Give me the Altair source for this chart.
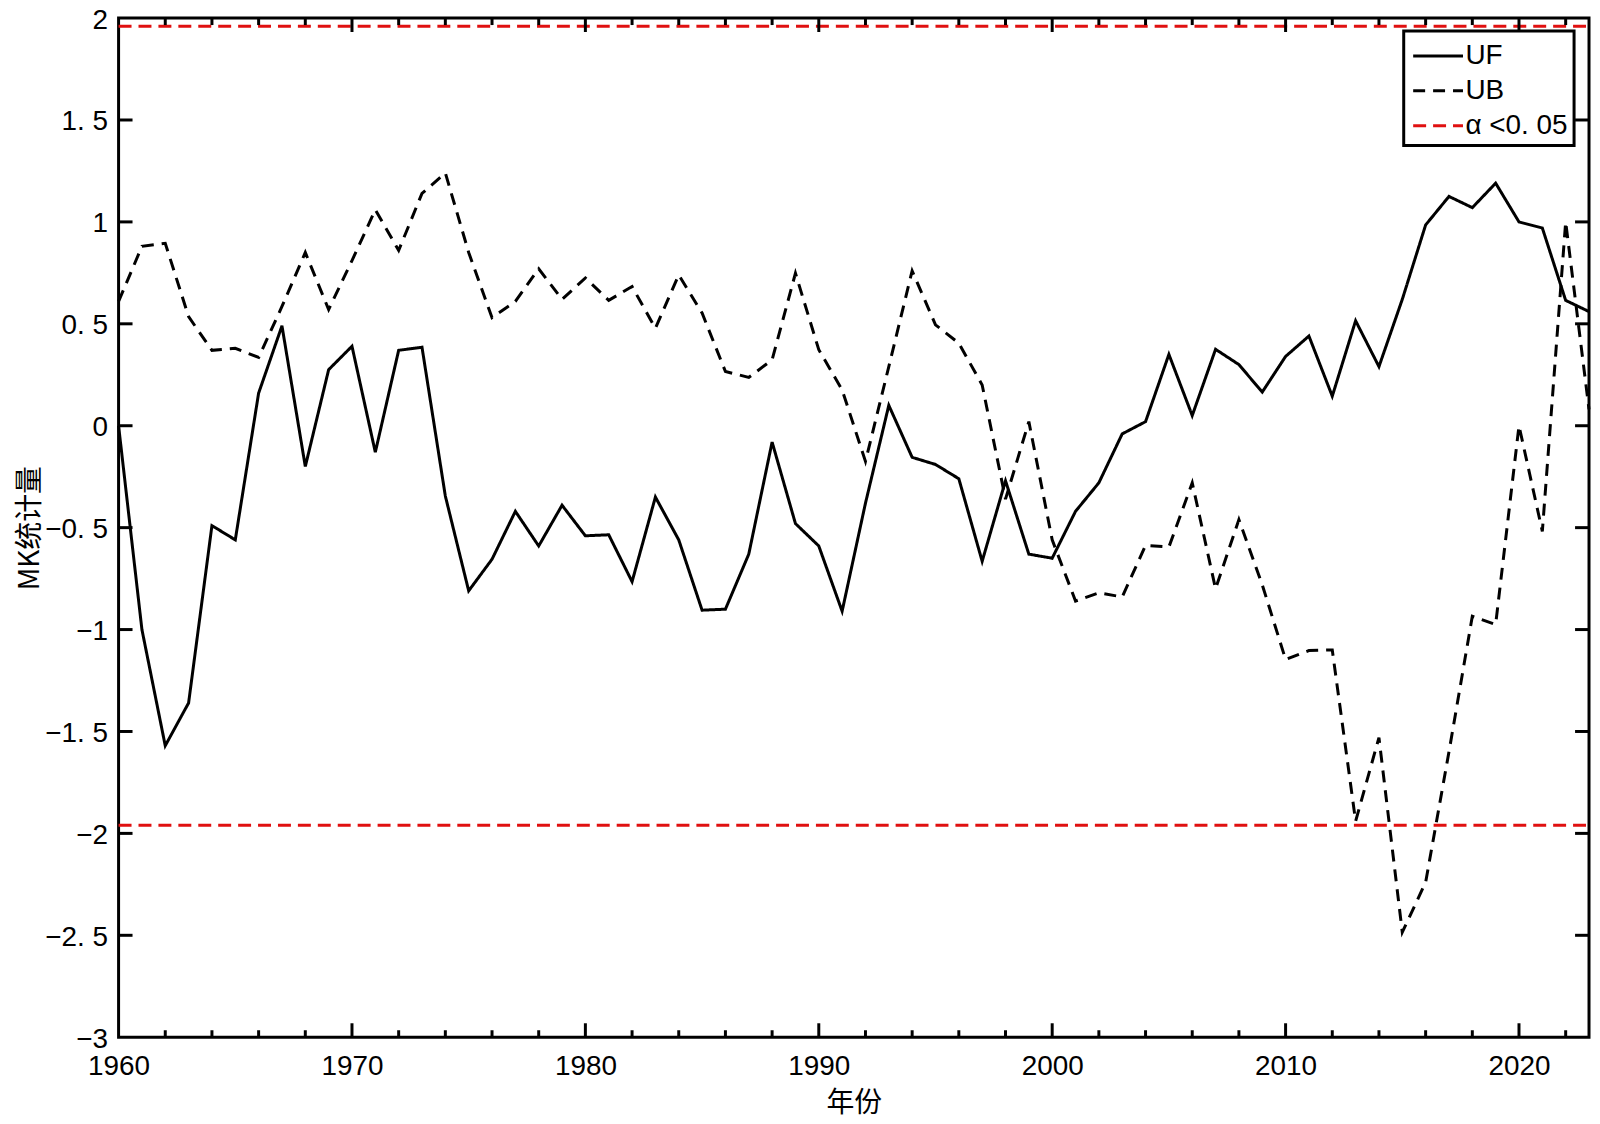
import altair as alt
import pandas as pd

# ---------------- data ----------------
years = list(range(1960, 2024))
uf = [0.0, -1.0, -1.57, -1.36, -0.49, -0.56, 0.16, 0.49, -0.20, 0.275,
      0.39, -0.13, 0.37, 0.385, -0.345, -0.81, -0.655, -0.42, -0.59, -0.39,
      -0.54, -0.535, -0.765, -0.35, -0.56, -0.905, -0.90, -0.63, -0.08, -0.48,
      -0.59, -0.91, -0.38, 0.10, -0.155, -0.19, -0.26, -0.665, -0.27, -0.63,
      -0.65, -0.42, -0.28, -0.04, 0.02, 0.35, 0.05, 0.375, 0.30, 0.165,
      0.34, 0.44, 0.145, 0.515, 0.29, 0.62, 0.985, 1.125, 1.07, 1.19,
      1.0, 0.97, 0.615, 0.56]
ub = [0.61, 0.88, 0.895, 0.535, 0.37, 0.38, 0.335, 0.585, 0.85, 0.57,
      0.81, 1.06, 0.86, 1.14, 1.24, 0.85, 0.53, 0.61, 0.77, 0.62,
      0.725, 0.615, 0.683, 0.478, 0.74, 0.553, 0.266, 0.237, 0.323, 0.748,
      0.373, 0.176, -0.175, 0.29, 0.76, 0.495, 0.405, 0.20, -0.36, 0.02,
      -0.56, -0.86, -0.82, -0.84, -0.587, -0.595, -0.28, -0.80, -0.46, -0.78,
      -1.147, -1.103, -1.10, -1.94, -1.53, -2.485, -2.24, -1.60, -0.935, -0.975,
      0.0, -0.518, 1.0, 0.08]
threshold = 1.96
series_names = ["UF", "UB", "α <0.05"]
x_label_values = [1960, 1970, 1980, 1990, 2000, 2010, 2020]
x_major_ticks = [1970, 1980, 1990, 2000, 2010, 2020]
x_minor_ticks = [y for y in range(1962, 2023, 2) if y % 10 != 0]
y_label_values = [-3, -2.5, -2, -1.5, -1, -0.5, 0, 0.5, 1, 1.5, 2]
y_tick_values = [-2.5, -2, -1.5, -1, -0.5, 0, 0.5, 1, 1.5]
x_domain = [1960, 2023]
y_domain = [-3, 2]

rows = []
for yr, v in zip(years, uf):
    rows.append({"year": yr, "value": v, "series": "UF", "grp": "UF"})
for yr, v in zip(years, ub):
    rows.append({"year": yr, "value": v, "series": "UB", "grp": "UB"})
for sign, g in [(1, "upper"), (-1, "lower")]:
    for yr in x_domain:
        rows.append({"year": yr, "value": sign * threshold, "series": "α <0.05", "grp": g})
df = pd.DataFrame(rows)

# ---------------- chart ----------------
W, H = 1476, 1023
MAJ, MIN = 14, 7

x_scale = alt.Scale(domain=x_domain, nice=False, zero=False)
y_scale = alt.Scale(domain=y_domain, nice=False, zero=False)

x_axis = alt.Axis(values=x_label_values, format="d", title="年份",
                  labelFlush=False, labelPadding=15, titlePadding=10)
y_axis = alt.Axis(values=y_label_values, format="~g", title="MK统计量",
                  labelExpr="replace(datum.label, '.', '. ')",
                  labelPadding=11, labelOffset=2, titlePadding=0)

legend = alt.Legend(
    title=None, orient="none", legendX=1290, legendY=13,
    symbolType="M-0.886,0H1.971", symbolSize=1225, symbolStrokeWidth=3,
    labelFont="Liberation Sans", labelFontSize=28, labelColor="black",
    labelOffset=18, padding=6, rowPadding=2, fillColor="white",
    labelExpr="datum.label == 'α <0.05' ? '\u00a0α <0. 05\u00a0' : datum.label",
)

lines = alt.Chart(df).mark_line(strokeWidth=3).encode(
    x=alt.X("year:Q", scale=x_scale, axis=x_axis),
    y=alt.Y("value:Q", scale=y_scale, axis=y_axis),
    color=alt.Color("series:N", scale=alt.Scale(domain=series_names,
                                                range=["black", "black", "#e01010"]),
                    legend=legend),
    strokeDash=alt.StrokeDash("series:N", scale=alt.Scale(domain=series_names,
                                                          range=[[1, 0], [12, 8], [13, 7]]),
                              legend=legend),
    detail="grp:N",
)


def xticks(values, length):
    base = alt.Chart(pd.DataFrame({"year": values}))
    enc_x = alt.X("year:Q", scale=x_scale, axis=x_axis)
    bottom = base.mark_rule(strokeWidth=3, color="black").encode(
        x=enc_x, y=alt.value(H), y2=alt.value(H - length))
    top = base.mark_rule(strokeWidth=3, color="black").encode(
        x=enc_x, y=alt.value(0), y2=alt.value(length))
    return [bottom, top]


ybase = alt.Chart(pd.DataFrame({"value": y_tick_values}))
enc_y = alt.Y("value:Q", scale=y_scale, axis=y_axis)
yleft = ybase.mark_rule(strokeWidth=3, color="black").encode(
    y=enc_y, x=alt.value(0), x2=alt.value(MAJ))
yright = ybase.mark_rule(strokeWidth=3, color="black").encode(
    y=enc_y, x=alt.value(W), x2=alt.value(W - MAJ))

chart = alt.layer(
    lines, *xticks(x_major_ticks, MAJ), *xticks(x_minor_ticks, MIN), yleft, yright
).properties(
    width=W, height=H,
    padding={"left": 111, "top": 8, "right": 3, "bottom": 85},
    autosize=alt.AutoSizeParams(type="none"),
).configure_view(
    stroke="black", strokeWidth=3
).configure_axis(
    domain=False, ticks=False, grid=False,
    labelFont="Liberation Sans", labelFontSize=28, labelColor="black",
    labelOverlap=False,
    titleFont="Noto Sans CJK SC", titleFontSize=28, titleFontWeight="normal",
    titleColor="black",
).configure_legend(
    strokeColor="black", strokeWidth=3
)

chart.save("out.html", embed_options={"renderer": "svg", "actions": False})
